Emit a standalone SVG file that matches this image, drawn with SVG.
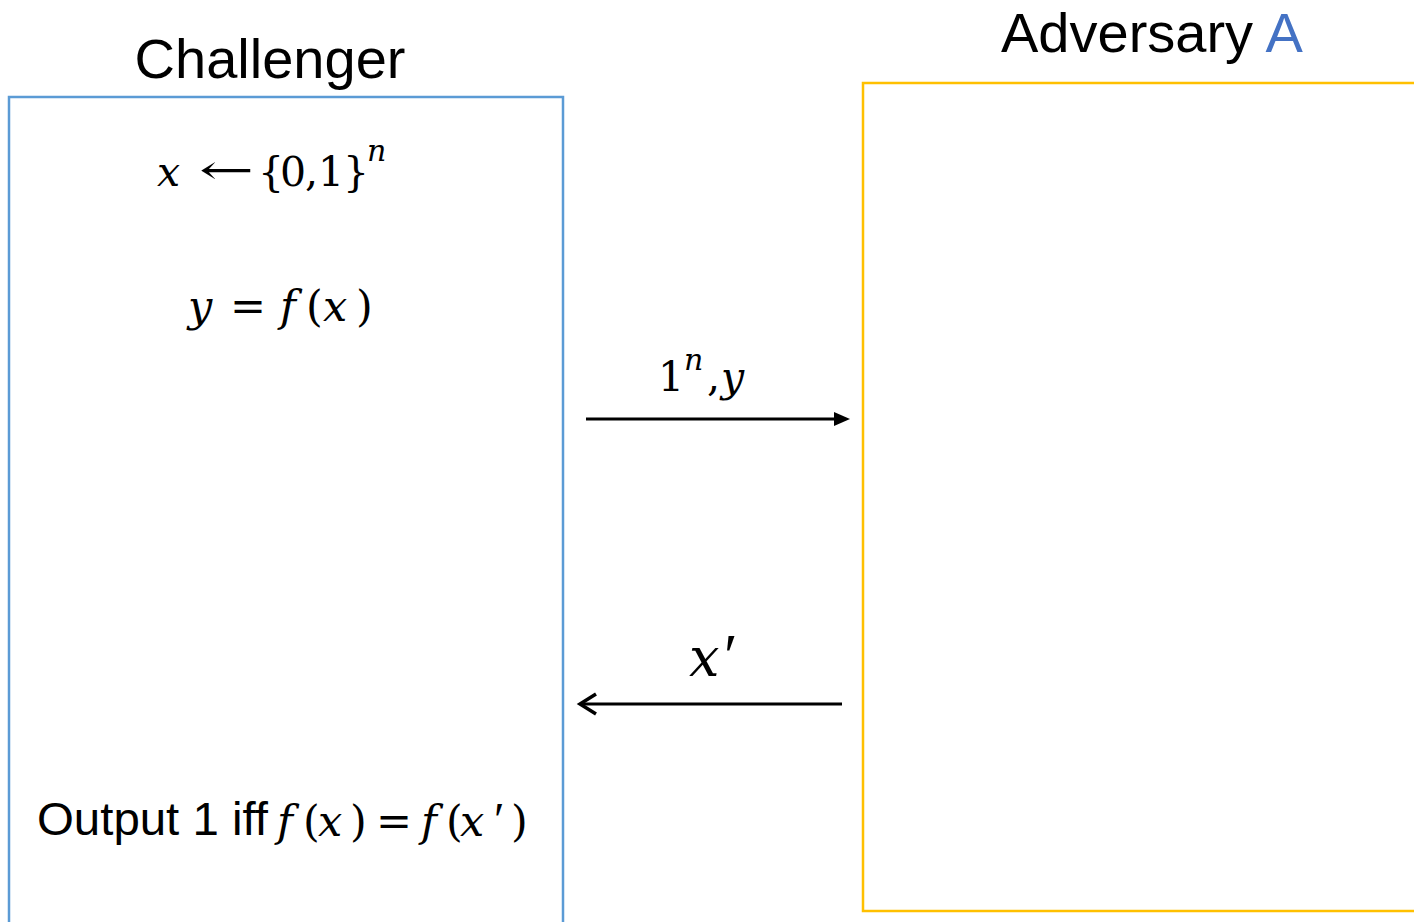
<svg xmlns="http://www.w3.org/2000/svg" width="1414" height="922" viewBox="0 0 1414 922">
<style>
.title{font-family:"Liberation Sans",Arial,sans-serif;font-size:56px;fill:#000}
.m{font-family:"DejaVu Serif","Liberation Serif",serif;fill:#000}
.i{font-style:italic}
.sup{font-style:italic;font-size:30px}
.pr{font-family:"Liberation Serif",serif}
.sans{font-family:"Liberation Sans",Arial,sans-serif;font-size:47px;fill:#000}
</style>
<rect width="1414" height="922" fill="#fff"/>
<g id="challenger">
<rect x="9" y="97" width="554" height="830" fill="none" stroke="#5B9BD5" stroke-width="2.5"/>
<text class="title" x="270" y="78" text-anchor="middle">Challenger</text>
<text class="m i" x="157" y="186" style="font-size:41px">x</text>
<text class="m" x="199" y="184" style="font-size:41px" textLength="55" lengthAdjust="spacingAndGlyphs">←</text>
<text class="m" y="186" style="font-size:41px"><tspan x="258">{</tspan><tspan x="280">0</tspan><tspan x="305">,</tspan><tspan x="318">1</tspan><tspan x="343">}</tspan></text>
<text class="m sup" x="367" y="161">n</text>
<text class="m" y="321" style="font-size:43px"><tspan class="i" x="188">y</tspan><tspan x="230">=</tspan><tspan class="i" x="280">f</tspan><tspan x="306">(</tspan><tspan class="i" x="323">x</tspan><tspan x="356">)</tspan></text>
<text class="sans" x="37" y="835" textLength="231" lengthAdjust="spacingAndGlyphs">Output 1 iff</text>
<text class="m" y="836" style="font-size:43px"><tspan class="i" x="277">f</tspan><tspan x="303">(</tspan><tspan class="i" x="318">x</tspan><tspan x="350">)</tspan><tspan x="376">=</tspan><tspan class="i" x="421">f</tspan><tspan x="446">(</tspan><tspan class="i" x="460">x</tspan><tspan class="pr" x="494" style="font-size:48px">′</tspan><tspan x="511">)</tspan></text>
</g>
<g id="adversary">
<rect x="863" y="83" width="560" height="828" fill="none" stroke="#FFC000" stroke-width="2.5"/>
<text class="title" x="1001" y="52">Adversary <tspan fill="#4472C4">A</tspan></text>
</g>
<g id="connectors" stroke="#000" stroke-width="3" fill="none">
<line x1="586" y1="419" x2="838" y2="419"/>
<polygon points="850,419 834,412 834,426" fill="#000" stroke="none"/>
<line x1="582" y1="704" x2="842" y2="704"/>
<polyline points="596,694 580,704 596,714" stroke-width="3.5"/>
</g>
<g id="labels">
<text class="m" y="391" style="font-size:41px"><tspan x="658">1</tspan><tspan class="sup" x="684" y="370">n</tspan><tspan x="707" y="391">,</tspan><tspan class="i" x="721">y</tspan></text>
<text class="m" y="676" style="font-size:54px"><tspan class="i" x="689">x</tspan><tspan class="pr" x="724" style="font-size:62px">′</tspan></text>
</g>
</svg>
